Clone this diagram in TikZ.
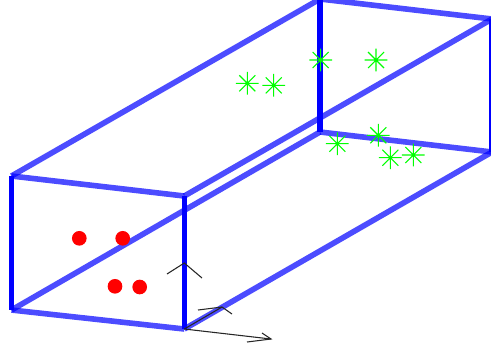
\documentclass[tikz,border=0pt]{standalone}
\tikzset{
  px/.style={x=0.75pt,y=-0.75pt},
  edgeA/.style={line width=4.2pt,draw=blue,draw opacity=0.7,line cap=butt},
  edgeB/.style={line width=3.8pt,draw=blue,line cap=butt},
  axisline/.style={line width=0.8pt,draw=black!85},
  dot/.style={circle,fill=red,inner sep=0pt,minimum size=11pt},
  pics/gstar/.style={code={
    \draw[line width=0.8pt,draw=green] (-8.5pt,0)--(8.5pt,0) (0,-8.5pt)--(0,8.5pt)
      (-6pt,-6pt)--(6pt,6pt) (-6pt,6pt)--(6pt,-6pt);
  }}
}
\begin{document}
\begin{tikzpicture}[px]
\useasboundingbox (0,0) rectangle (491,351);
\clip (0,0) rectangle (491,351);
% box corners
\coordinate (ftl) at (11.5,176);
\coordinate (ftr) at (184.3,196);
\coordinate (fbl) at (11.5,310);
\coordinate (fbr) at (184.3,329);
\coordinate (btl) at (320,-1);
\coordinate (btr) at (492,19);
\coordinate (bbl) at (320,132);
\coordinate (bbr) at (492,152);
% axes
\coordinate (o) at (184.3,329);
\coordinate (zt) at (184.3,263);
\coordinate (za) at (167,274);
\coordinate (zb) at (202,278);
\coordinate (yt) at (222,307);
\coordinate (ya) at (198,310);
\coordinate (yb) at (232,314);
\coordinate (xt) at (271,339);
\coordinate (xa) at (247,342);
\coordinate (xb) at (262,333);
\draw[axisline] (o) -- (zt);
% translucent edges
\draw[edgeA] (ftl) -- (ftr);
\draw[edgeA] (fbl) -- (fbr);
\draw[edgeA] (btl) -- (btr);
\draw[edgeA] (bbl) -- (bbr);
\draw[edgeA] (ftl) -- (btl);
\draw[edgeA] (ftr) -- (btr);
\draw[edgeA] (fbl) -- (bbl);
\draw[edgeA] (fbr) -- (bbr);
% vertical edges
\draw[edgeB] (ftl) -- (fbl);
\draw[edgeB] (ftr) -- (fbr);
\draw[edgeB] (btl) -- (bbl);
\draw[edgeB] (btr) -- (bbr);
% axes on top
\draw[axisline] (za) -- (zt) -- (zb);
\draw[axisline] (o) -- (yt);
\draw[axisline] (ya) -- (yt) -- (yb);
\draw[axisline] (o) -- (xt);
\draw[axisline] (xa) -- (xt) -- (xb);
% red dots
\node[dot] (r1) at (79.3,238.3) {};
\node[dot] (r2) at (122.7,238.3) {};
\node[dot] (r3) at (115,286.3) {};
\node[dot] (r4) at (139.7,287) {};
% green stars
\pic at (247.3,83.3) {gstar};
\pic at (273.7,85.3) {gstar};
\pic at (320.7,60) {gstar};
\pic at (376,60) {gstar};
\pic at (337.3,143.7) {gstar};
\pic at (378.3,135.3) {gstar};
\pic at (390.3,157.7) {gstar};
\pic at (413.3,155) {gstar};
\end{tikzpicture}
\end{document}
